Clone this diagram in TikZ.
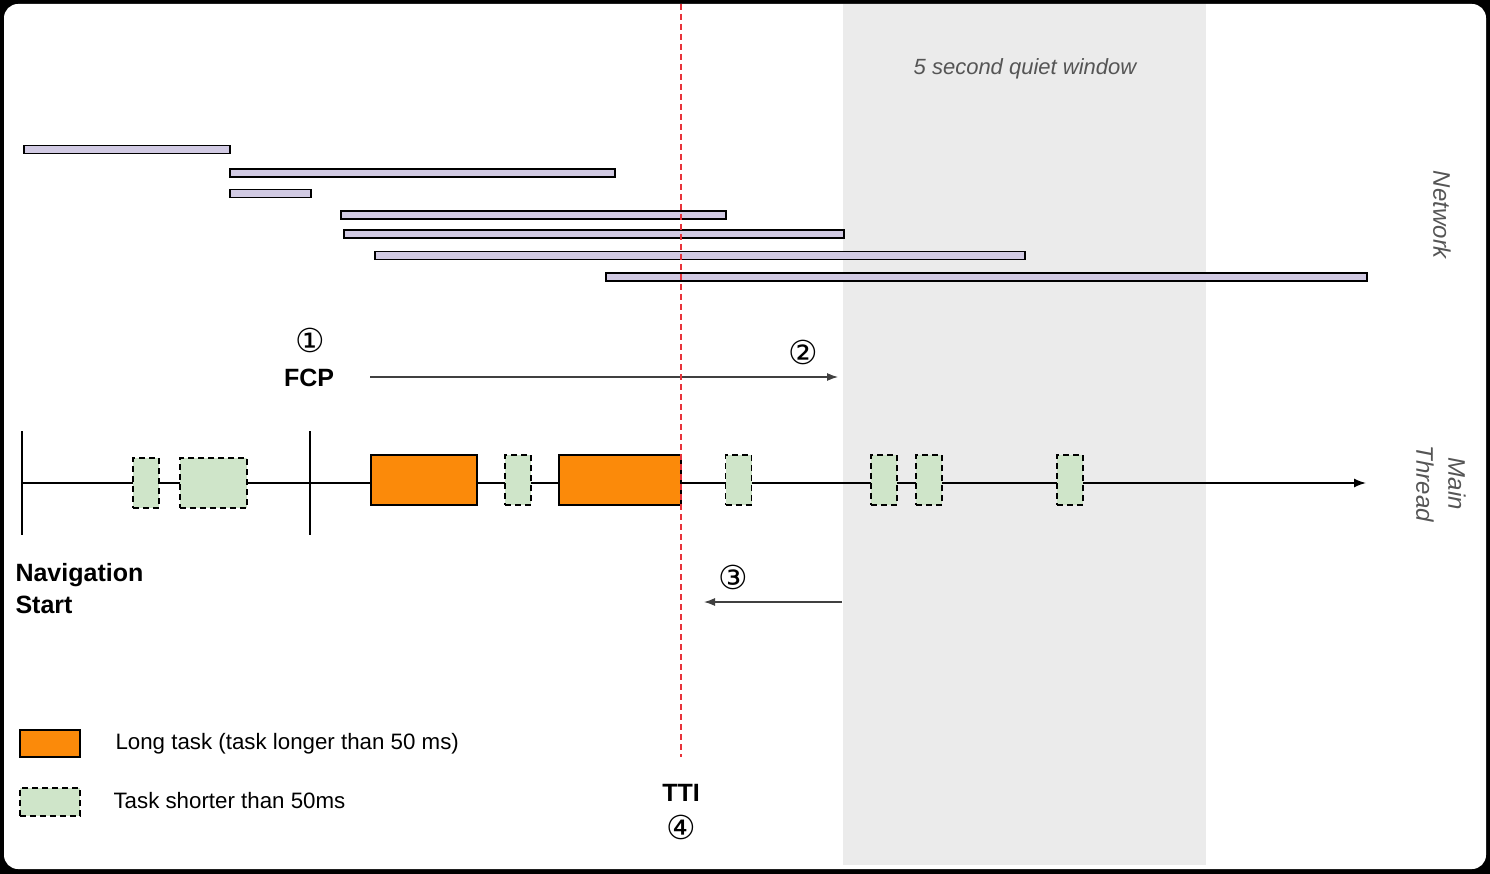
\documentclass[tikz,border=0pt]{standalone}
\usepackage{fontspec}
\setmainfont{Liberation Sans}
\newfontfamily\circfont{DejaVu Sans}
\usetikzlibrary{arrows.meta, positioning}

\definecolor{barlilac}{HTML}{D1CAE3}
\definecolor{longorange}{HTML}{FB8A0A}
\definecolor{shortgreen}{HTML}{CFE5C9}
\definecolor{quietgrey}{HTML}{EBEBEB}
\definecolor{labelgrey}{HTML}{555555}
\definecolor{ttired}{HTML}{E8323A}

\begin{document}
\begin{tikzpicture}[x=1pt, y=-1pt,
    netbar/.style={draw=black, line width=1.7pt, fill=barlilac, minimum height=8pt, inner sep=0pt, anchor=west},
    longtask/.style={draw=black, line width=1.4pt, fill=longorange, minimum height=50pt, inner sep=0pt},
    shorttask/.style={draw=black, line width=1.5pt, dash pattern=on 6pt off 4pt, fill=shortgreen, minimum height=50pt, minimum width=26pt, inner sep=0pt},
    sidelabel/.style={text=labelgrey, font=\fontsize{24}{32}\selectfont\itshape, rotate=-90, align=center},
    milestone/.style={font=\fontsize{25}{30}\selectfont\bfseries},
    stepnum/.style={font=\circfont\fontsize{33}{36}\selectfont},
    legendtext/.style={font=\fontsize{22.3}{26}\selectfont, anchor=west}]

    % frame and quiet window
    \fill[black] (0,0) rectangle (1490,874);
    \fill[white, rounded corners=14pt] (4,4) rectangle (1486,869);
    \fill[quietgrey] (843,4) rectangle (1206,865);
    \node[text=labelgrey, font=\fontsize{22}{26}\selectfont\itshape] (quiet) at (1025,69) {5 second quiet window};

    % network requests
    \node[netbar, minimum width=206pt] (net1) at (23,149.5) {};
    \node[netbar, minimum width=385pt] (net2) at (229,173) {};
    \node[netbar, minimum width=81pt] (net3) at (229,193.5) {};
    \node[netbar, minimum width=385pt] (net4) at (340,215) {};
    \node[netbar, minimum width=500pt] (net5) at (343,234) {};
    \node[netbar, minimum width=650pt] (net6) at (374,255.5) {};
    \node[netbar, minimum width=761pt] (net7) at (605,277) {};
    \node[sidelabel] (network) at (1442,215) {Network};

    % FCP and search for the quiet window
    \node[stepnum] (one) at (310,340) {①};
    \node[milestone] (fcp) at (309,378) {FCP};
    \coordinate (searchA) at (370,377);
    \coordinate (searchB) at (838,377);
    \draw[-{Latex[length=11pt, width=8pt]}, line width=1.2pt, draw=black!75] (searchA) -- (searchB);
    \node[stepnum] (two) at (803,352) {②};

    % main thread
    \coordinate (navstart) at (22,483);
    \coordinate (fcptick) at (310,483);
    \coordinate (threadend) at (1366,483);
    \draw[-{Latex[length=12pt, width=9pt]}, line width=1.5pt] (navstart) -- (threadend);
    \draw[line width=1.5pt] (navstart) ++(0,-52) -- ++(0,104);
    \draw[line width=1.5pt] (fcptick) ++(0,-52) -- ++(0,104);
    \node[shorttask] (s1) at (146,483) {};
    \node[shorttask, minimum width=67pt] (s2) at (213.5,483) {};
    \node[longtask, minimum width=106pt] (l1) at (424,480) {};
    \node[shorttask] (s3) at (518,480) {};
    \node[longtask, minimum width=122pt] (l2) at (620,480) {};
    \node[shorttask] (s4) at (738.5,480) {};
    \node[shorttask] (s5) at (884,480) {};
    \node[shorttask] (s6) at (929,480) {};
    \node[shorttask] (s7) at (1070,480) {};
    \node[sidelabel] (mainthread) at (1441,484) {Main\\Thread};
    \node[font=\fontsize{25}{32}\selectfont\bfseries, align=left, anchor=west] (navlabel) at (12,589) {Navigation\\Start};

    % walk back to the last long task
    \coordinate (backA) at (842,602);
    \coordinate (backB) at (704,602);
    \draw[-{Latex[length=11pt, width=8pt]}, line width=1.2pt, draw=black!75] (backA) -- (backB);
    \node[stepnum] (three) at (733,577) {③};

    % TTI
    \coordinate (ttitop) at (681,4);
    \coordinate (ttibottom) at (681,757);
    \draw[ttired, line width=1.4pt, dash pattern=on 6pt off 4pt] (ttitop) -- (ttibottom);
    \node[milestone] (tti) at (681,793) {TTI};
    \node[stepnum] (four) at (681,827) {④};

    % legend
    \node[longtask, minimum width=60pt, minimum height=27pt] (keylong) at (50,743.5) {};
    \node[legendtext] (keylongtext) at (112,744) {Long task (task longer than 50 ms)};
    \node[shorttask, minimum width=60pt, minimum height=28pt] (keyshort) at (50,802) {};
    \node[legendtext] (keyshorttext) at (110,801) {Task shorter than 50ms};
\end{tikzpicture}
\end{document}
